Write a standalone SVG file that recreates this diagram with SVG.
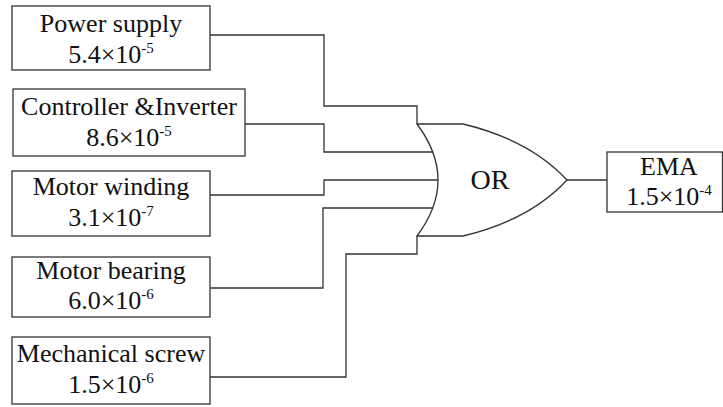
<svg xmlns="http://www.w3.org/2000/svg" width="723" height="407" viewBox="0 0 723 407">
<style>
.box{fill:#fff;stroke:#333;stroke-width:1.3}
.wire{fill:none;stroke:#333;stroke-width:1.3}
text{fill:#111;text-anchor:middle}
.t{font-size:26px}
.sup{font-size:15px}
.or{font-size:28px}
</style>
<rect width="723" height="407" fill="#fff"/>
<g id="connectors">
<path class="wire" d="M210,35 H324 V106 H417 V124"/>
<path class="wire" d="M245,124 H324 V152 H433"/>
<path class="wire" d="M210,195 H324 V180 H438"/>
<path class="wire" d="M210,288 H323 V208 H433"/>
<path class="wire" d="M210,377 H346 V254 H417 V236"/>
<path class="wire" d="M567,180 H607"/>
</g>
<g id="power-supply" font-family="'Liberation Serif', 'Times New Roman', serif">
<rect class="box" x="12" y="6" width="198" height="64"/>
<text class="t" x="111" y="32">Power supply</text>
<text class="t" x="111" y="63">5.4×10<tspan class="sup" dy="-10">-5</tspan></text>
</g>
<g id="controller-inverter" font-family="'Liberation Serif', 'Times New Roman', serif">
<rect class="box" x="13" y="89" width="232" height="67"/>
<text class="t" x="129" y="115">Controller &amp;Inverter</text>
<text class="t" x="129" y="146">8.6×10<tspan class="sup" dy="-10">-5</tspan></text>
</g>
<g id="motor-winding" font-family="'Liberation Serif', 'Times New Roman', serif">
<rect class="box" x="12" y="171" width="198" height="65"/>
<text class="t" x="111" y="195">Motor winding</text>
<text class="t" x="111" y="226">3.1×10<tspan class="sup" dy="-10">-7</tspan></text>
</g>
<g id="motor-bearing" font-family="'Liberation Serif', 'Times New Roman', serif">
<rect class="box" x="12" y="257" width="198" height="60"/>
<text class="t" x="111" y="279">Motor bearing</text>
<text class="t" x="111" y="309">6.0×10<tspan class="sup" dy="-10">-6</tspan></text>
</g>
<g id="mechanical-screw" font-family="'Liberation Serif', 'Times New Roman', serif">
<rect class="box" x="12" y="337" width="198" height="67"/>
<text class="t" x="111" y="362">Mechanical screw</text>
<text class="t" x="111" y="393">1.5×10<tspan class="sup" dy="-10">-6</tspan></text>
</g>
<g id="or-gate" font-family="'Liberation Serif', 'Times New Roman', serif">
<path class="box" d="M417,124 H463 Q530,140 567,180 Q530,220 463,236 H417 Q459,180 417,124 Z"/>
<text class="or" x="490" y="189">OR</text>
</g>
<g id="ema" font-family="'Liberation Serif', 'Times New Roman', serif">
<rect class="box" x="607" y="152" width="115.5" height="60"/>
<text class="t" x="669" y="175">EMA</text>
<text class="t" x="669" y="205">1.5×10<tspan class="sup" dy="-10">-4</tspan></text>
</g>
</svg>
